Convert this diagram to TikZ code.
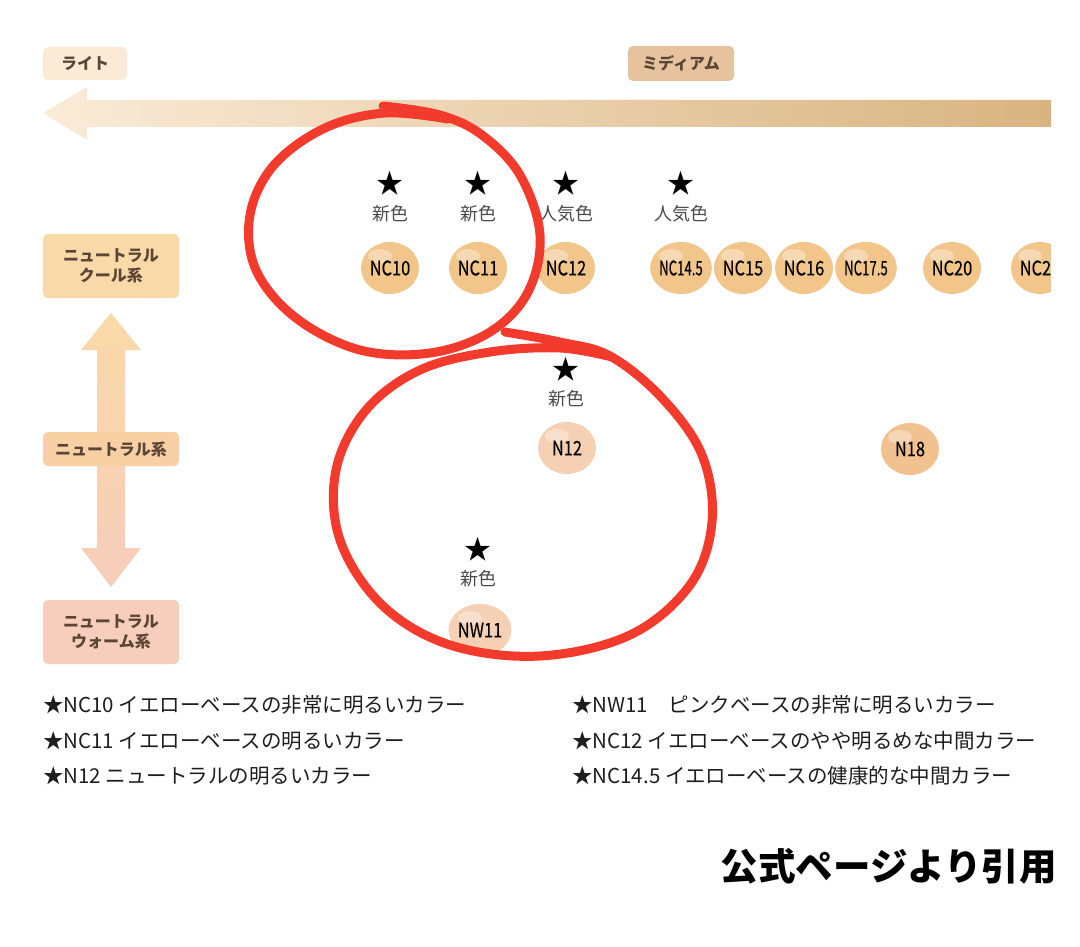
\documentclass[tikz,border=0pt]{standalone}
\usepackage{fontspec}
\setmainfont{Noto Sans CJK JP}
\newfontfamily\swatchfont[FakeStretch=0.82, FakeBold=0.4]{Noto Sans CJK JP}
\newfontfamily\swatchnarrow[FakeStretch=0.66, FakeBold=0.4]{Noto Sans CJK JP}
\usepackage{tikz}
\usetikzlibrary{shapes.geometric, positioning, calc}
\definecolor{LightTan}{HTML}{FBEAD6}
\definecolor{MediumTan}{HTML}{E6C39E}
\definecolor{ArrowLight}{HTML}{FAEBD8}
\definecolor{ArrowDark}{HTML}{D8B480}
\definecolor{CoolBox}{HTML}{F9D9A8}
\definecolor{NeutralBox}{HTML}{F7D0A4}
\definecolor{WarmBox}{HTML}{F7CDBB}
\definecolor{CatText}{HTML}{5B4636}
\definecolor{SwatchYellow}{HTML}{F2C68B}
\definecolor{SwatchPink}{HTML}{F6D0B3}
\definecolor{SwatchOrange}{HTML}{F2C190}
\definecolor{TagGray}{HTML}{4A4A4A}
\definecolor{NoteText}{HTML}{1E1E1E}
\definecolor{PenRed}{HTML}{F33B2D}

\begin{document}
\begin{tikzpicture}[x=1pt, y=-1pt,
    tonebox/.style={rounded corners=5pt, inner sep=0pt, text=CatText,
        font=\fontsize{16}{20}\selectfont\bfseries, align=center},
    swatch/.style={ellipse, minimum width=58pt, minimum height=52pt, inner sep=0pt,
        fill=SwatchYellow, text=black, font=\swatchfont\fontsize{20}{20}\selectfont,
        path picture={\fill[white, opacity=0.35]
            ([xshift=-10pt, yshift=12pt]path picture bounding box.center) ellipse (12pt and 7pt);}},
    starmark/.style={inner sep=0pt, font=\fontsize{27}{27}\selectfont},
    tag/.style={inner sep=0pt, text=TagGray, font=\fontsize{18}{18}\selectfont},
    note/.style={anchor=west, inner sep=0pt, text=NoteText, font=\fontsize{20.5}{20.5}\selectfont},
    redpen/.style={PenRed, line width=9pt, line cap=round, line join=round}]
    \useasboundingbox[fill=white] (0,0) rectangle (1080,947);

    % Light -> medium scale
    \node[tonebox, fill=LightTan, minimum width=84pt, minimum height=33pt] (light) at (85,63.5) {ライト};
    \node[tonebox, fill=MediumTan, minimum width=106pt, minimum height=35pt] (medium) at (681,63.5) {ミディアム};
    \shade[left color=ArrowLight, right color=ArrowDark]
        (43,113) -- (87,87) -- (87,100) -- (1051,100) -- (1051,127) -- (87,127) -- (87,140) -- cycle;

    % Undertone axis
    \shade[top color=CoolBox, bottom color=WarmBox]
        (111,313) -- (141,350) -- (125,350) -- (125,548) -- (141,548) -- (111,587)
        -- (81,548) -- (97,548) -- (97,350) -- (81,350) -- cycle;
    \node[tonebox, fill=CoolBox, minimum width=136pt, minimum height=64pt] (cool) at (111,266) {ニュートラル\\クール系};
    \node[tonebox, fill=NeutralBox, minimum width=136pt, minimum height=34pt] (neutral) at (111,449) {ニュートラル系};
    \node[tonebox, fill=WarmBox, minimum width=136pt, minimum height=64pt] (warm) at (111,632) {ニュートラル\\ウォーム系};

    % Shades
    \begin{scope}
    \clip (0,0) rectangle (1051,947);
    \node[swatch] (nc10) at (390,268) {NC10};
    \node[swatch] (nc11) at (478,268) {NC11};
    \node[swatch] (nc12) at (566,268) {NC12};
    \node[swatch, font=\swatchnarrow\fontsize{20}{20}\selectfont] (nc145) at (681,268) {NC14.5};
    \node[swatch] (nc15) at (743,268) {NC15};
    \node[swatch] (nc16) at (804,268) {NC16};
    \node[swatch, font=\swatchnarrow\fontsize{20}{20}\selectfont] (nc175) at (866,268) {NC17.5};
    \node[swatch] (nc20) at (952,268) {NC20};
    \node[swatch] (nc2x) at (1040,268) {NC2\phantom{5}};
    \end{scope}
    \node[swatch, fill=SwatchPink] (n12) at (567,448) {N12};
    \node[swatch, fill=SwatchOrange] (n18) at (910,449) {N18};
    \node[swatch, fill=SwatchPink] (nw11) at (480,630) {NW11};

    % New / popular marks
    \node[starmark] (m10) at (390,183) {★};
    \node[tag] (t10) at (390,214) {新色};
    \node[starmark] (m11) at (478,183) {★};
    \node[tag] (t11) at (478,214) {新色};
    \node[starmark] (m12) at (566,183) {★};
    \node[tag] (t12) at (566,214) {人気色};
    \node[starmark] (m145) at (681,183) {★};
    \node[tag] (t145) at (681,214) {人気色};
    \node[starmark] (mn12) at (566,369) {★};
    \node[tag] (tn12) at (566,399) {新色};
    \node[starmark] (mnw11) at (478,549) {★};
    \node[tag] (tnw11) at (478,579) {新色};

    % Hand-drawn circles
    \draw[redpen] plot[smooth, tension=0.6] coordinates {(383,106) (440,115) (482,135) (520,175)
        (540,235) (528,292) (490,332) (430,353) (360,350) (296,318) (256,270) (250,215)
        (274,165) (325,128) (385,113) (448,119)};
    \draw[redpen] plot[smooth, tension=0.6] coordinates {(505,332) (560,342) (610,356) (662,398)
        (702,455) (712,522) (690,585) (630,635) (540,656) (450,645) (382,605) (340,540)
        (336,470) (366,410) (420,370) (490,352) (560,348) (612,357)};

    % Notes
    \node[note] (n1) at (43,705) {★NC10 イエローベースの非常に明るいカラー};
    \node[note] (n2) at (43,741) {★NC11 イエローベースの明るいカラー};
    \node[note] (n3) at (43,776) {★N12 ニュートラルの明るいカラー};
    \node[note] (n4) at (572,705) {★NW11　ピンクベースの非常に明るいカラー};
    \node[note] (n5) at (572,741) {★NC12 イエローベースのやや明るめな中間カラー};
    \node[note] (n6) at (572,776) {★NC14.5 イエローベースの健康的な中間カラー};
    \node[anchor=east, inner sep=0pt, font=\fontsize{37.5}{37.5}\selectfont\bfseries] (src) at (1057,866) {公式ページより引用};
\end{tikzpicture}
\end{document}
